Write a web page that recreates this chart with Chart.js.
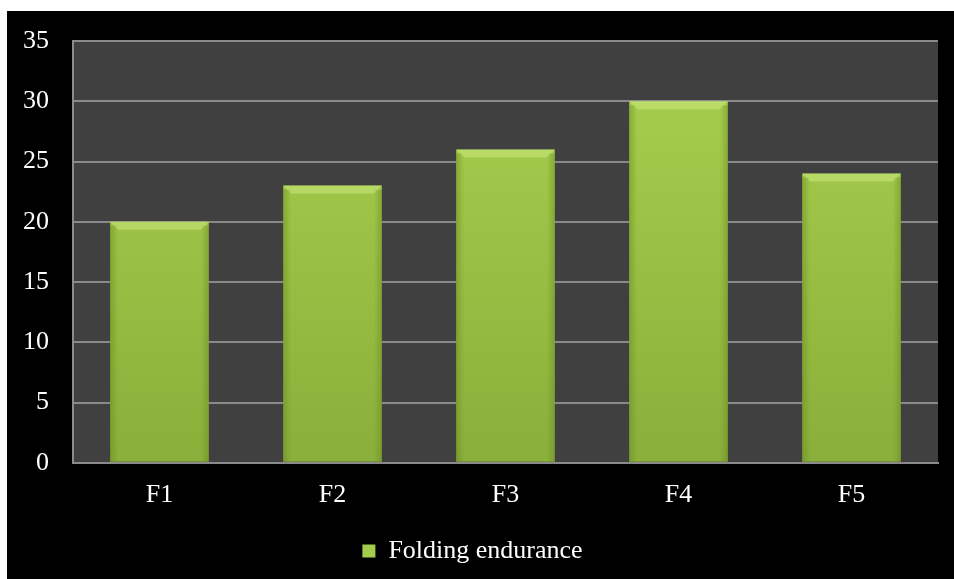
<!DOCTYPE html>
<html>
<head>
<meta charset="utf-8">
<script src="https://cdn.jsdelivr.net/npm/chart.js@4.4.1/dist/chart.umd.min.js"></script>
<style>
    body { margin: 0; background: #fff; }
    #wrap { position: absolute; left: 7px; top: 11px; width: 947px; height: 568px; background: #000; }
</style>
</head>
<body>
<div id="wrap"><canvas id="foldChart"></canvas></div>
<script>
const categories = ['F1', 'F2', 'F3', 'F4', 'F5'];
const foldingEndurance = [20, 23, 26, 30, 24];
const yTicks = [0, 5, 10, 15, 20, 25, 30, 35];

const fontFamily = "'Liberation Serif', 'Times New Roman', serif";

// dark plot area behind the bars
const plotBackground = {
    id: 'plotBackground',
    beforeDraw(chart) {
        const { ctx, chartArea: a } = chart;
        ctx.save();
        ctx.fillStyle = '#404040';
        ctx.fillRect(a.left, a.top, a.right - a.left, a.bottom - a.top);
        ctx.restore();
    }
};

// soft bevel on each bar: light top strip, darker sides
const barBevel = {
    id: 'barBevel',
    afterDatasetsDraw(chart) {
        const ctx = chart.ctx;
        chart.getDatasetMeta(0).data.forEach(bar => {
            const left = bar.x - bar.width / 2;
            const right = bar.x + bar.width / 2;
            const top = bar.y;
            const bottom = bar.base;
            ctx.save();
            ctx.fillStyle = 'rgba(215,240,140,0.45)';
            ctx.beginPath();
            ctx.moveTo(left, top);
            ctx.lineTo(right, top);
            ctx.lineTo(right - 8, top + 8);
            ctx.lineTo(left + 8, top + 8);
            ctx.closePath();
            ctx.fill();
            let g = ctx.createLinearGradient(left, 0, left + 8, 0);
            g.addColorStop(0, 'rgba(95,125,25,0.4)');
            g.addColorStop(1, 'rgba(95,125,25,0)');
            ctx.fillStyle = g;
            ctx.fillRect(left, top + 4, 8, bottom - top - 4);
            g = ctx.createLinearGradient(right - 8, 0, right, 0);
            g.addColorStop(0, 'rgba(95,125,25,0)');
            g.addColorStop(1, 'rgba(95,125,25,0.4)');
            ctx.fillStyle = g;
            ctx.fillRect(right - 8, top + 4, 8, bottom - top - 4);
            ctx.restore();
        });
    }
};

function barFill(context) {
    const area = context.chart.chartArea;
    if (!area) return '#9cc447';
    const g = context.chart.ctx.createLinearGradient(0, area.top, 0, area.bottom);
    g.addColorStop(0, '#a9d14f');
    g.addColorStop(1, '#8aaf3a');
    return g;
}

new Chart(document.getElementById('foldChart'), {
    type: 'bar',
    data: {
        labels: categories,
        datasets: [{
            label: 'Folding endurance',
            data: foldingEndurance,
            backgroundColor: barFill,
            borderWidth: 0,
            barPercentage: 0.57,
            categoryPercentage: 1
        }]
    },
    options: {
        responsive: true,
        maintainAspectRatio: false,
        animation: false,
        layout: { padding: { top: 30, right: 16, bottom: 5, left: 0 } },
        plugins: {
            tooltip: { enabled: false },
            legend: {
                position: 'bottom',
                labels: {
                    color: '#fff',
                    font: { family: fontFamily, size: 26 },
                    boxWidth: 13,
                    boxHeight: 13,
                    padding: 10,
                    generateLabels: chart => [{
                        text: 'Folding endurance',
                        fillStyle: '#a3cc4c',
                        strokeStyle: '#a3cc4c',
                        lineWidth: 0,
                        fontColor: '#fff',
                        datasetIndex: 0
                    }]
                }
            }
        },
        scales: {
            x: {
                grid: { display: false, drawTicks: false },
                border: { color: '#8a8a8a', width: 2 },
                ticks: { color: '#fff', padding: 17, font: { family: fontFamily, size: 26 } }
            },
            y: {
                min: 0,
                max: 35,
                afterFit(scale) { scale.width = 66; },
                afterBuildTicks(scale) { scale.ticks = yTicks.map(v => ({ value: v })); },
                // invisible tick marks push the labels away from the axis
                grid: { color: '#8a8a8a', lineWidth: 2, drawTicks: true, tickLength: 24, tickColor: 'rgba(0,0,0,0)' },
                border: { color: '#8a8a8a', width: 2 },
                ticks: { color: '#fff', padding: 0, font: { family: fontFamily, size: 26 } }
            }
        }
    },
    plugins: [plotBackground, barBevel]
});
</script>
</body>
</html>
